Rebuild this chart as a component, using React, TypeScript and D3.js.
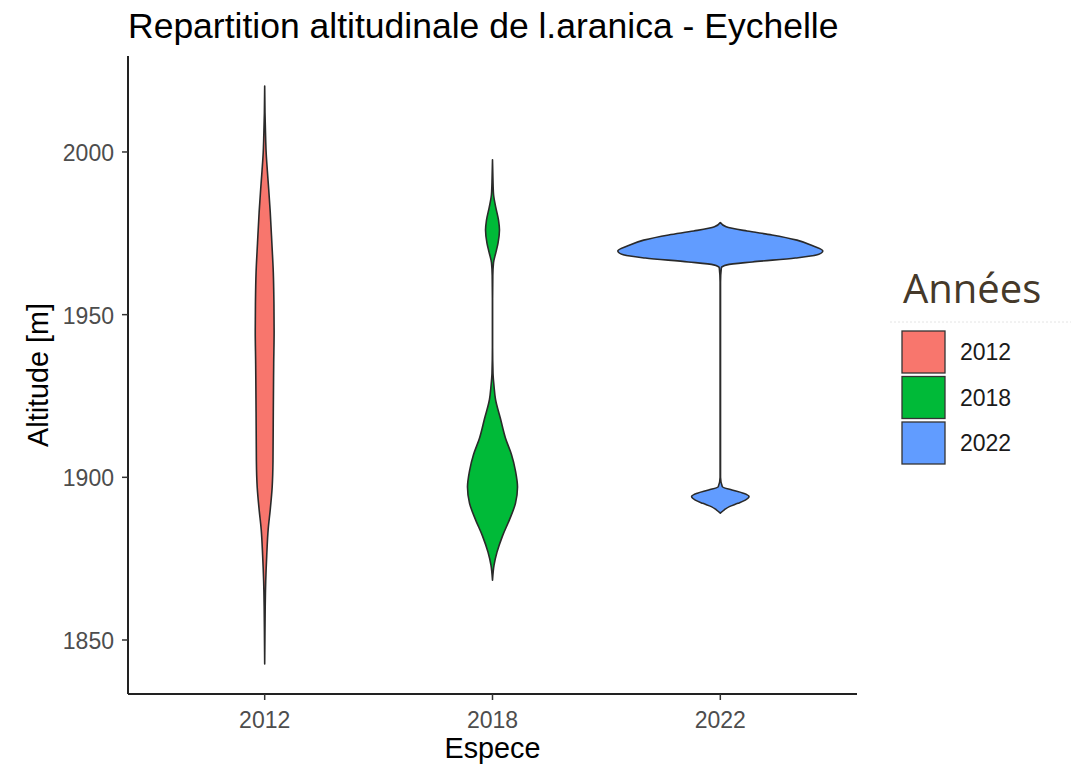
import React from "react";
import * as d3 from "d3";

const years = ["2012", "2018", "2022"];
const fillColors = ["#F8766D", "#00BA38", "#619CFF"];
const yTicks = [1850, 1900, 1950, 2000];

// density profiles (altitude, relative half-width; 1 = widest violin)
const alt2012 = [2020.3, 2012, 2005.9, 2000, 1994.2, 1988.6, 1981.6, 1972, 1963, 1954, 1945, 1935, 1920, 1905, 1897, 1890, 1884, 1876, 1868, 1860, 1850, 1842.6];
const dens2012 = [0, 0.003, 0.008, 0.014, 0.026, 0.039, 0.054, 0.07, 0.084, 0.09, 0.092, 0.088, 0.084, 0.081, 0.073, 0.054, 0.034, 0.02, 0.01, 0.005, 0.002, 0];

const alt2018 = [1997.6, 1992, 1987, 1983, 1979, 1976, 1972, 1969, 1966, 1962, 1955, 1940, 1932, 1928, 1924, 1918, 1912, 1907, 1902, 1897, 1892, 1887, 1882, 1877, 1873, 1868.4];
const dens2018 = [0, 0.004, 0.01, 0.032, 0.059, 0.068, 0.054, 0.032, 0.01, 0.003, 0.001, 0.001, 0.005, 0.015, 0.029, 0.078, 0.127, 0.185, 0.224, 0.244, 0.224, 0.166, 0.098, 0.044, 0.015, 0];

const alt2022 = [1978.3, 1977, 1975.7, 1974.5, 1972.9, 1971.1, 1969.6, 1968.3, 1967.4, 1966.2, 1965.3, 1964.4, 1960, 1900, 1897.1, 1896.1, 1895.1, 1894.1, 1893, 1892, 1891, 1890, 1889];
const dens2022 = [0, 0.057, 0.26, 0.504, 0.748, 0.907, 1.0, 0.937, 0.732, 0.312, 0.065, 0.01, 0.002, 0.002, 0.02, 0.114, 0.224, 0.28, 0.244, 0.171, 0.088, 0.039, 0];

const altitudes = [alt2012, alt2018, alt2022];
const densities = [dens2012, dens2018, dens2022];

const W = 1071;
const H = 771;
const left = 128, right = 857, top = 56, bottom = 694;
const sans = "'Liberation Sans', Arial, sans-serif";

export default function App() {
  const x = d3.scalePoint<string>().domain(years).range([left, right]).padding(0.6);
  const y = d3.scaleLinear().domain([1833.4, 2029.5]).range([bottom, top]);
  const w = d3.scaleLinear().domain([0, 1]).range([0, 0.45 * x.step()]);

  return (
    <svg width={W} height={H} style={{ position: "absolute", left: 0, top: 0, background: "#fff" }}>
      <rect x={0} y={0} width={W} height={H} fill="#fff" />
      <text x={128} y={38} fontFamily={sans} fontSize={35.5} fill="#000">
        Repartition altitudinale de l.aranica - Eychelle
      </text>

      {years.map((yr, i) => {
        const cx = x(yr) as number;
        const pts = altitudes[i].map((a, k) => ({ a, d: densities[i][k] }));
        const area = d3
          .area<{ a: number; d: number }>()
          .y((p) => y(p.a))
          .x0((p) => cx - w(p.d))
          .x1((p) => cx + w(p.d))
          .curve(d3.curveMonotoneY);
        return (
          <path key={yr} d={area(pts) || ""} fill={fillColors[i]} stroke="#2a2a2a" strokeWidth={1.6} strokeLinejoin="round" />
        );
      })}

      {/* axes */}
      <line x1={left} x2={left} y1={top} y2={bottom} stroke="#222" strokeWidth={2} />
      <line x1={left} x2={right} y1={bottom} y2={bottom} stroke="#222" strokeWidth={2} />
      {yTicks.map((t) => (
        <g key={t}>
          <line x1={left - 6} x2={left} y1={y(t)} y2={y(t)} stroke="#333" strokeWidth={1.5} />
          <text x={114} y={y(t) + 9} textAnchor="end" fontFamily={sans} fontSize={23} fill="#4D4D4D">
            {t}
          </text>
        </g>
      ))}
      {years.map((yr) => (
        <g key={yr}>
          <line x1={x(yr)} x2={x(yr)} y1={bottom} y2={bottom + 6} stroke="#333" strokeWidth={1.5} />
          <text x={x(yr)} y={728} textAnchor="middle" fontFamily={sans} fontSize={23} fill="#4D4D4D">
            {yr}
          </text>
        </g>
      ))}
      <text x={(left + right) / 2} y={758} textAnchor="middle" fontFamily={sans} fontSize={28.75} fill="#000">
        Espece
      </text>
      <text
        transform={`translate(48, ${(top + bottom) / 2}) rotate(-90)`}
        textAnchor="middle"
        fontFamily={sans}
        fontSize={28.75}
        fill="#000"
      >
        Altitude [m]
      </text>

      {/* legend */}
      <text x={903} y={303} fontFamily="'Open Sans', 'Noto Sans', sans-serif" fontSize={40} fill="#45392a">
        Années
      </text>
      <line x1={890} x2={1071} y1={322} y2={322} stroke="#e4e4e4" strokeWidth={1} strokeDasharray="2,2" />
      {years.map((yr, i) => (
        <g key={yr}>
          <rect x={902} y={331 + i * 45.5} width={43} height={42} fill={fillColors[i]} stroke="#333" strokeWidth={1.3} />
          <text x={960} y={331 + i * 45.5 + 29} fontFamily={sans} fontSize={23} fill="#1a1a1a">
            {yr}
          </text>
        </g>
      ))}
    </svg>
  );
}
